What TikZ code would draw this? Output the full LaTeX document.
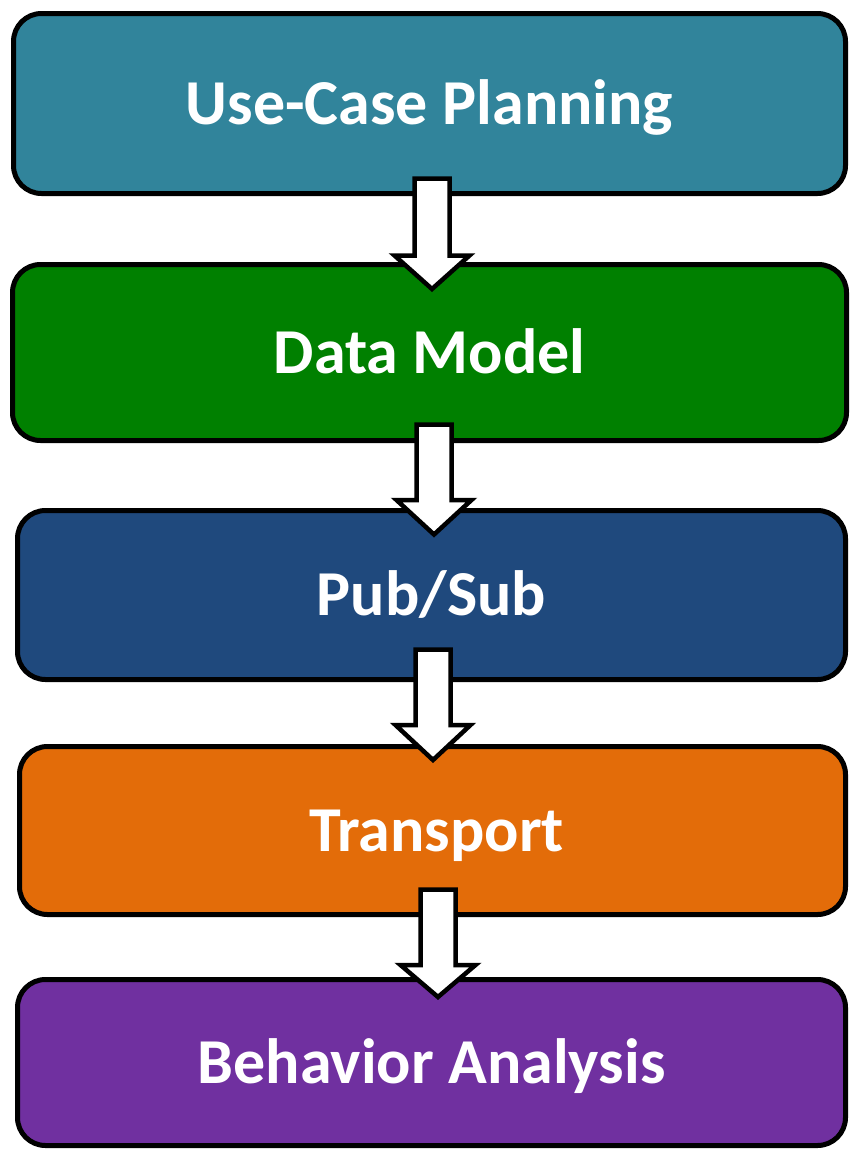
\documentclass[tikz,border=0pt]{standalone}
\usepackage{fontspec}
\setmainfont{Carlito}
\usetikzlibrary{calc}
\definecolor{cteal}{HTML}{31849B}
\definecolor{cgreen}{HTML}{008000}
\definecolor{cblue}{HTML}{1F497D}
\definecolor{corange}{HTML}{E36C09}
\definecolor{cpurple}{HTML}{7030A0}
\tikzset{
  stagebox/.style={draw=black, line width=5pt, rounded corners=28pt, rectangle,
    text=white, font=\fontsize{64}{70}\selectfont\bfseries, inner sep=0pt,
    text height=50pt, text depth=9pt},
  blockarrow/.style={draw=black, fill=white, line width=4.5pt, line join=miter}
}
\newcommand{\barrow}[4]{% cx, ytop, yhead, ytip
  \draw[blockarrow] (#1-17.5,#2) -- (#1+17.5,#2) -- (#1+17.5,#3) -- (#1+37.5,#3)
    -- (#1,#4) -- (#1-37.5,#3) -- (#1-17.5,#3) -- cycle;}
\begin{document}
\begin{tikzpicture}[x=1pt,y=-1pt]
\useasboundingbox (0,0) rectangle (850,1149);
\node[stagebox, fill=cteal, minimum width=832pt, minimum height=180pt] (b1) at (429.5,103.5) {Use-Case Planning};
\node[stagebox, fill=cgreen, minimum width=834pt, minimum height=176pt] (b2) at (429.5,352.5) {Data Model};
\node[stagebox, fill=cblue, minimum width=828pt, minimum height=169pt] (b3) at (431.5,595) {Pub/Sub};
\node[stagebox, fill=corange, minimum width=826pt, minimum height=168pt] (b4) at (432.5,830.5) {\hspace*{8pt}Transport};
\node[stagebox, fill=cpurple, minimum width=828pt, minimum height=166pt] (b5) at (431.5,1062.5) {Behavior Analysis};
\barrow{432}{178.5}{255.5}{289}
\barrow{434}{424.5}{500}{534.5}
\barrow{433}{649.5}{725}{760}
\barrow{438}{889.5}{965}{997}
\end{tikzpicture}
\end{document}
